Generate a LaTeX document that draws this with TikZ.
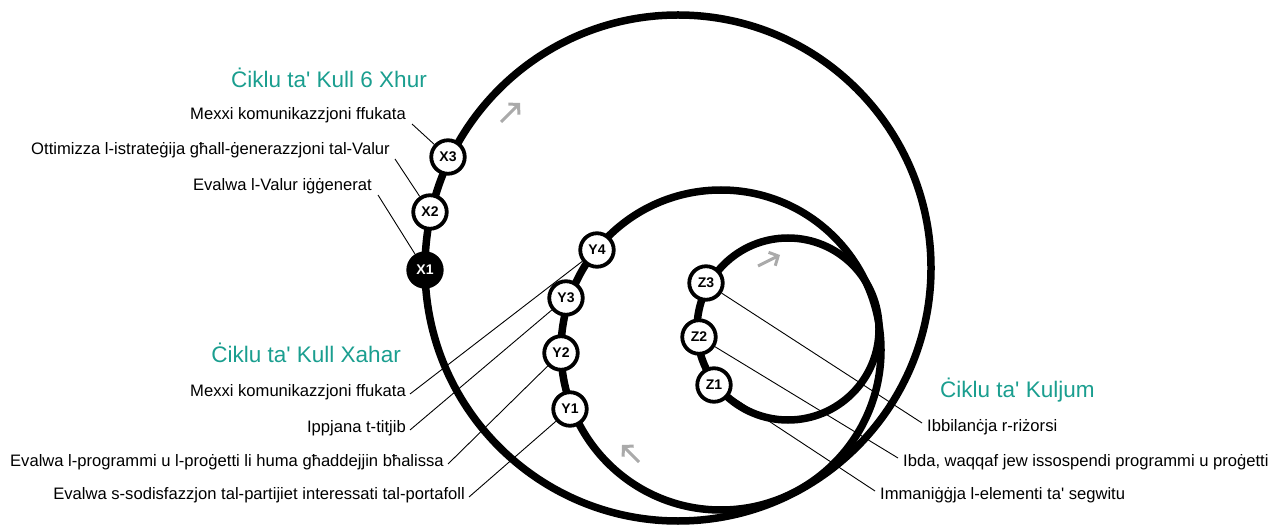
\documentclass[tikz,border=0pt]{standalone}
\usepackage{fontspec}
\newfontfamily\arialike{Liberation Sans}
\usetikzlibrary{arrows.meta,backgrounds}
\definecolor{cyc}{RGB}{26,158,143}
\definecolor{flow}{RGB}{170,170,170}

\begin{document}
\begin{tikzpicture}[x=1pt, y=-1pt,
	n/.style={circle, draw, line width=3.8pt, fill=white, minimum size=33.5pt, inner sep=0pt, font=\arialike\bfseries\fontsize{14}{14}\selectfont},
	lbl/.style={inner sep=0pt, font=\arialike\fontsize{16.6}{16.6}\selectfont},
	ttl/.style={inner sep=0pt, text=cyc, font=\arialike\fontsize{22.5}{22.5}\selectfont},
	ring/.style={line width=7.5pt},
	flowdir/.style={flow, line width=3pt, -{Straight Barb[length=7pt,width=15pt]}},
	lead/.style={line width=0.9pt}]
	\useasboundingbox (0,0) rectangle (1271,526);

	\draw[ring] (678,268) circle[radius=253pt];
	\draw[ring] (721,350) circle[radius=160pt];
	\draw[ring] (788,329) circle[radius=91pt];

	\draw[flowdir] (501,122) -- (520,103);
	\draw[flowdir] (758,266) -- (780,255);
	\draw[flowdir] (639,462) -- (622,445);

	\node[n, fill=black, text=white] (x1) at (425,270) {X1};
	\node[n] (x2) at (430,212) {X2};
	\node[n] (x3) at (448,157) {X3};

	\node[n] (y1) at (570,409) {Y1};
	\node[n] (y2) at (561,353) {Y2};
	\node[n] (y3) at (566,298) {Y3};
	\node[n] (y4) at (597,250) {Y4};

	\node[n] (z1) at (714,385) {Z1};
	\node[n] (z2) at (699,337) {Z2};
	\node[n] (z3) at (706,283) {Z3};

	\node[ttl, anchor=east] (t6) at (427,78) {Ċiklu ta' Kull 6 Xhur};
	\node[ttl, anchor=east] (tm) at (401,353) {Ċiklu ta' Kull Xahar};
	\node[ttl, anchor=west] (td) at (940,390) {Ċiklu ta' Kuljum};

	\node[lbl, anchor=east] (lx3) at (406,115) {Mexxi komunikazzjoni ffukata};
	\node[lbl, anchor=east] (lx2) at (390,150) {Ottimizza l-istrateġija għall-ġenerazzjoni tal-Valur};
	\node[lbl, anchor=east] (lx1) at (372,186) {Evalwa l-Valur iġġenerat};

	\node[lbl, anchor=east] (ly4) at (406,392) {Mexxi komunikazzjoni ffukata};
	\node[lbl, anchor=east] (ly3) at (406,428) {Ippjana t-titjib};
	\node[lbl, anchor=east] (ly2) at (444,462) {Evalwa l-programmi u l-proġetti li huma għaddejjin bħalissa};
	\node[lbl, anchor=east] (ly1) at (465,495) {Evalwa s-sodisfazzjon tal-partijiet interessati tal-portafoll};

	\node[lbl, anchor=west] (lz3) at (927,427) {Ibbilanċja r-riżorsi};
	\node[lbl, anchor=west] (lz2) at (903,462) {Ibda, waqqaf jew issospendi programmi u proġetti};
	\node[lbl, anchor=west] (lz1) at (880,495) {Immaniġġja l-elementi ta' segwitu};

	% leaders under the rings
	\begin{scope}[on background layer]
		\draw[lead] ([xshift=6pt,yshift=-9pt]lx3.east) -- (x3);
		\draw[lead] ([xshift=5pt,yshift=-9pt]lx2.east) -- (x2);
		\draw[lead] ([xshift=6pt,yshift=-9pt]lx1.east) -- (x1);
		\draw[lead] ([xshift=4pt,yshift=-2pt]ly4.east) -- (y4);
		\draw[lead] ([xshift=4pt,yshift=-2pt]ly3.east) -- (y3);
		\draw[lead] ([xshift=4pt,yshift=-2pt]ly2.east) -- (y2);
		\draw[lead] ([xshift=4pt,yshift=-2pt]ly1.east) -- (y1);
		\draw[lead] ([xshift=-5pt,yshift=4pt]lz3.west) -- (z3);
		\draw[lead] ([xshift=-5pt,yshift=4pt]lz2.west) -- (z2);
		\draw[lead] ([xshift=-5pt,yshift=4pt]lz1.west) -- (z1);
	\end{scope}
\end{tikzpicture}
\end{document}
